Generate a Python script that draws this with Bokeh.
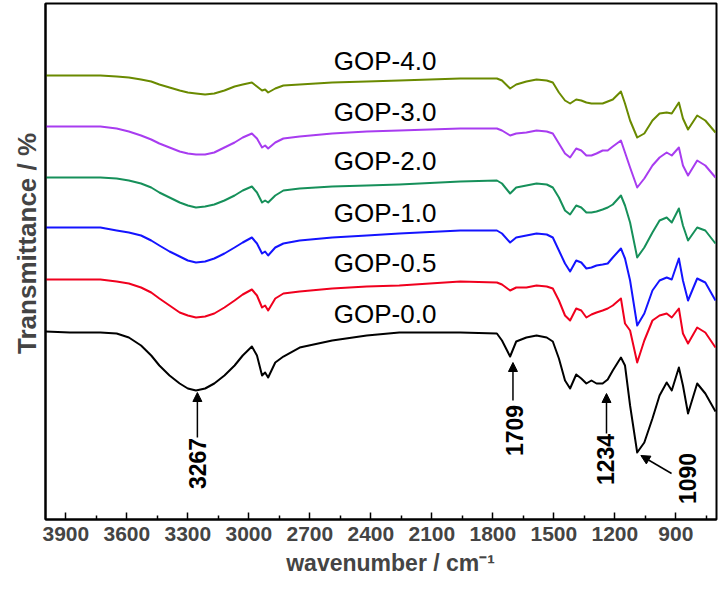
import numpy as np
from bokeh.plotting import figure
from bokeh.models import Range1d, FixedTicker, Arrow, NormalHead
from bokeh.embed import file_html
from bokeh.resources import INLINE
from bokeh.core.properties import value

# Wavenumber grid (cm^-1)
wavenumber = [4000, 3880, 3730, 3650, 3590, 3530, 3480, 3440, 3390, 3340, 3300, 3260, 3215, 3170, 3120,
              3070, 3030, 2985, 2960, 2935, 2920, 2905, 2870, 2830, 2750, 2590, 2420, 2260, 1960, 1780,
              1755, 1715, 1685, 1635, 1585, 1535, 1505, 1475, 1445, 1420, 1390, 1365, 1340, 1315, 1290,
              1260, 1235, 1210, 1170, 1150, 1125, 1090, 1055, 1015, 980, 945, 920, 885, 865, 840, 795,
              755, 705]

# Offset transmittance (arbitrary units) for each sample
gop_00 = [169, 168, 168, 167, 163, 155, 145, 135, 125, 117, 112, 110, 112, 117, 125, 135, 145, 154,
          145, 125, 128, 123, 138, 144, 153, 160, 165, 168, 168, 167, 160, 144, 159, 163, 165, 163, 159, 142,
          120, 112, 126, 122, 117, 120, 117, 117, 121, 130, 143, 135, 95, 48, 58, 82, 105, 118, 110, 133,
          115, 87, 117, 107, 89]
gop_05 = [221, 221, 221, 219, 217, 213, 208, 202, 195, 188, 185, 183, 184, 187, 193, 200, 206, 211,
          205, 193, 195, 190, 202, 207, 209, 212, 214, 215, 219, 218, 216, 210, 213, 213, 215, 214, 212, 200,
          185, 180, 192, 190, 183, 186, 188, 190, 192, 195, 202, 177, 170, 138, 160, 180, 185, 187, 183, 192,
          167, 157, 173, 168, 153]
gop_10 = [273, 273, 273, 270, 268, 265, 260, 255, 249, 244, 240, 238, 239, 242, 247, 253, 258, 263,
          257, 247, 249, 245, 253, 257, 260, 263, 265, 267, 270, 270, 267, 258, 263, 265, 267, 266, 263, 250,
          237, 229, 240, 238, 232, 233, 235, 236, 237, 243, 252, 242, 220, 175, 187, 210, 220, 223, 221, 242,
          220, 200, 222, 218, 200]
gop_20 = [323, 323, 323, 322, 320, 317, 313, 308, 303, 298, 295, 293, 294, 296, 300, 305, 310, 314,
          308, 298, 300, 298, 305, 310, 312, 314, 315, 316, 319, 320, 317, 307, 313, 315, 317, 316, 313, 303,
          290, 286, 295, 293, 288, 288, 289, 291, 293, 296, 305, 295, 278, 243, 253, 268, 280, 283, 278, 292,
          275, 260, 273, 270, 257]
gop_30 = [374, 374, 374, 372, 369, 365, 361, 357, 353, 349, 347, 346, 346, 348, 353, 358, 363, 367,
          362, 353, 355, 352, 358, 362, 364, 367, 369, 370, 372, 372, 370, 365, 367, 368, 370, 369, 367, 357,
          347, 343, 352, 350, 345, 345, 347, 350, 350, 354, 360, 348, 333, 313, 322, 335, 343, 348, 345, 353,
          335, 325, 340, 335, 323]
gop_40 = [425, 425, 425, 424, 423, 421, 419, 416, 413, 410, 408, 407, 406, 407, 410, 414, 416, 418,
          414, 410, 411, 408, 412, 415, 416, 418, 419, 420, 422, 422, 420, 412, 416, 419, 421, 420, 418, 408,
          400, 397, 401, 400, 398, 397, 397, 397, 399, 401, 409, 397, 380, 363, 367, 380, 387, 388, 387, 398,
          382, 371, 385, 380, 368]

series_names = ["GOP-0.0", "GOP-0.5", "GOP-1.0", "GOP-2.0", "GOP-3.0", "GOP-4.0"]
series_values = [gop_00, gop_05, gop_10, gop_20, gop_30, gop_40]
series_colors = ["#000000", "#f0001e", "#1414ff", "#16905a", "#a83cf0", "#6a8a00"]
name_wn = [2330, 2330, 2330, 2330, 2330, 2330]
name_T = [187, 238, 288, 340, 389, 440]

x_ticks = [3900, 3600, 3300, 3000, 2700, 2400, 2100, 1800, 1500, 1200, 900]
x_minor_ticks = [3750, 3450, 3150, 2850, 2550, 2250, 1950, 1650, 1350, 1050, 750]

peak_labels = ["3267", "1709", "1234", "1090"]
peak_text_wn = [3253, 1693, 1246, 842]
peak_text_T = [37, 70, 41, 22]
arrow_start_wn = [3253, 1701, 1241, 921]
arrow_start_T = [63, 100, 67, 27]
arrow_end_wn = [3253, 1701, 1241, 1072]
arrow_end_T = [108, 138, 107, 45]

FONT = "Liberation Sans"
NBSP = "\u00a0"

p = figure(width=721, height=589, x_range=Range1d(4000, 700), y_range=Range1d(-19, 497),
           output_backend="svg", toolbar_location=None,
           min_border_left=45, min_border_right=5, min_border_top=3, min_border_bottom=70)

p.xgrid.grid_line_color = None
p.ygrid.grid_line_color = None
p.outline_line_color = "black"
p.outline_line_width = 2
p.background_fill_color = "white"
p.border_fill_color = "white"

for vals, col in zip(series_values, series_colors):
    p.line(wavenumber, vals, line_color=col, line_width=2, line_join="round")

p.text(x=name_wn, y=name_T, text=series_names, text_font=value(FONT),
       text_font_size="26px", text_align="center", text_baseline="middle", text_color="black")

p.text(x=peak_text_wn, y=peak_text_T, text=peak_labels, angle=np.pi / 2,
       text_font=value(FONT), text_font_style="bold", text_font_size="23px",
       text_align="center", text_baseline="middle", text_color="black")

for xs, ys, xe, ye in zip(arrow_start_wn, arrow_start_T, arrow_end_wn, arrow_end_T):
    p.add_layout(Arrow(end=NormalHead(size=9, fill_color="black", line_color="black", line_width=1),
                       x_start=xs, y_start=ys, x_end=xe, y_end=ye,
                       line_color="black", line_width=1.5))

xa = p.xaxis[0]
xa.ticker = FixedTicker(ticks=x_ticks, minor_ticks=x_minor_ticks)
xa.major_tick_in = 7
xa.major_tick_out = 0
xa.minor_tick_in = 4
xa.minor_tick_out = 0
xa.axis_line_width = 2
xa.major_tick_line_width = 1.5
xa.minor_tick_line_width = 1.5
xa.major_label_text_font = FONT
xa.major_label_text_font_style = "bold"
xa.major_label_text_font_size = "21px"
xa.major_label_standoff = 7
xa.axis_label = NBSP * 3 + "wavenumber / cm\u207b\u00b9"
xa.axis_label_text_font = FONT
xa.axis_label_text_font_style = "bold"
xa.axis_label_text_font_size = "23px"
xa.axis_label_standoff = 6

ya = p.yaxis[0]
ya.ticker = FixedTicker(ticks=[])
ya.major_tick_line_color = None
ya.minor_tick_line_color = None
ya.axis_line_width = 2
ya.axis_label = NBSP * 5 + "Transmittance / %"
ya.axis_label_text_font = FONT
ya.axis_label_text_font_style = "bold"
ya.axis_label_text_font_size = "26px"
ya.axis_label_standoff = 4

open("out.html", "w").write(file_html(p, INLINE))
